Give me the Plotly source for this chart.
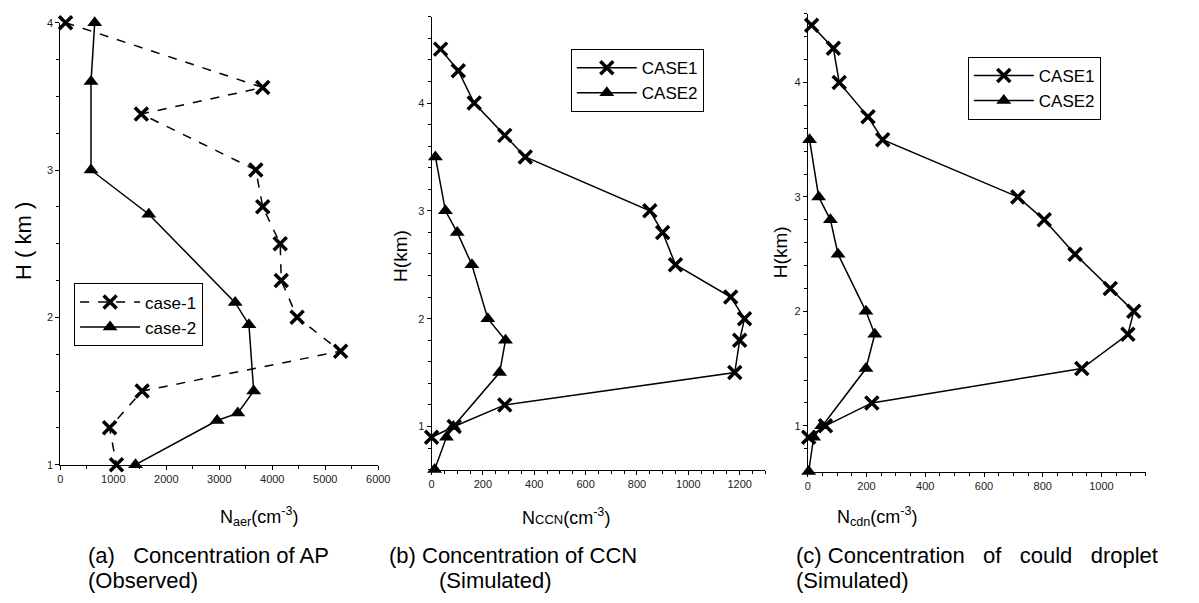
import plotly.graph_objects as go

# ---------------- data ----------------
# (a) observed aerosol particles
a_case1_N = [100, 3820, 1530, 3690, 3820, 4150, 4170, 4470, 5290, 1545, 930, 1060]
a_case1_H = [4.0, 3.56, 3.38, 3.0, 2.75, 2.5, 2.25, 2.0, 1.77, 1.5, 1.25, 1.0]
a_case2_N = [650, 580, 580, 1670, 3300, 3560, 3650, 3350, 2960, 1420]
a_case2_H = [4.0, 3.6, 3.0, 2.7, 2.1, 1.95, 1.5, 1.35, 1.3, 1.0]

# (b) simulated CCN
b_case1_N = [35, 104, 166, 285, 365, 850, 900, 950, 1165, 1219, 1200, 1181, 285, 88, 0]
b_case1_H = [4.5, 4.3, 4.0, 3.7, 3.5, 3.0, 2.8, 2.5, 2.2, 2.0, 1.8, 1.5, 1.2, 1.0, 0.9]
b_case2_N = [15, 54, 100, 157, 219, 288, 265, 85, 58, 12]
b_case2_H = [3.5, 3.0, 2.8, 2.5, 2.0, 1.8, 1.5, 1.0, 0.9, 0.6]

# (c) simulated cloud droplets
c_case1_N = [13, 87, 107, 205, 255, 715, 805, 910, 1030, 1110, 1090, 933, 218, 60, 3]
c_case1_H = [4.5, 4.3, 4.0, 3.7, 3.5, 3.0, 2.8, 2.5, 2.2, 2.0, 1.8, 1.5, 1.2, 1.0, 0.9]
c_case2_N = [6, 37, 77, 103, 198, 228, 198, 47, 20, 3]
c_case2_H = [3.5, 3.0, 2.8, 2.5, 2.0, 1.8, 1.5, 1.0, 0.9, 0.6]

a_xticks = [0, 1000, 2000, 3000, 4000, 5000, 6000]
b_xticks = [0, 200, 400, 600, 800, 1000, 1200]
c_xticks = [0, 200, 400, 600, 800, 1000]
h_ticks = [1, 2, 3, 4]

# ---------------- styling ----------------
W, H = 1199, 603
FONT = "Liberation Sans Narrow, Arial Narrow, Liberation Sans, Arial, sans-serif"
BLACK = "#000000"
TICKC = "#222222"


def px_x(p):
    return p / W


def px_y(p):
    return 1 - p / H


xmark = dict(symbol="x-thin", size=13, line=dict(width=3.5, color=BLACK), color=BLACK)
tmark = dict(symbol="triangle-up", size=13, color=BLACK)

fig = go.Figure()

series = [
    (a_case1_N, a_case1_H, "case-1", "dash", xmark, "x", "y", "legend"),
    (a_case2_N, a_case2_H, "case-2", "solid", tmark, "x", "y", "legend"),
    (b_case1_N, b_case1_H, "CASE1", "solid", xmark, "x2", "y2", "legend2"),
    (b_case2_N, b_case2_H, "CASE2", "solid", tmark, "x2", "y2", "legend2"),
    (c_case1_N, c_case1_H, "CASE1", "solid", xmark, "x3", "y3", "legend3"),
    (c_case2_N, c_case2_H, "CASE2", "solid", tmark, "x3", "y3", "legend3"),
]
for xs, ys, name, dash, mk, xa, ya, lg in series:
    fig.add_trace(go.Scatter(x=xs, y=ys, mode="lines+markers", name=name,
                             line=dict(color=BLACK, width=1.5, dash=dash), marker=mk,
                             xaxis=xa, yaxis=ya, legend=lg, cliponaxis=False))


def xaxis(domain_px, rng, ticks, minor, anchor):
    return dict(domain=[px_x(domain_px[0]), px_x(domain_px[1])], range=rng, anchor=anchor,
                tickmode="array", tickvals=ticks, ticktext=[str(t) for t in ticks],
                showline=True, linecolor=BLACK, linewidth=1, ticks="outside", ticklen=4,
                tickcolor=BLACK, showgrid=False, zeroline=False, mirror=False,
                tickfont=dict(family=FONT, size=11, color=TICKC),
                minor=dict(dtick=minor, tick0=0, ticks="outside", ticklen=3, tickcolor=BLACK, showgrid=False))


def yaxis(domain_px, rng, ticks, minor, anchor):
    return dict(domain=[px_y(domain_px[1]), px_y(domain_px[0])], range=rng, anchor=anchor,
                tickmode="array", tickvals=ticks, ticktext=[str(t) for t in ticks],
                showline=True, linecolor=BLACK, linewidth=1, ticks="outside", ticklen=4,
                tickcolor=BLACK, showgrid=False, zeroline=False, mirror=False,
                tickfont=dict(family=FONT, size=11, color=TICKC),
                minor=dict(dtick=minor, tick0=0, ticks="outside", ticklen=3, tickcolor=BLACK, showgrid=False))


legend_common = dict(bgcolor="white", bordercolor=BLACK, borderwidth=1,
                     font=dict(family=FONT, size=17, color=BLACK),
                     xanchor="left", yanchor="top", itemwidth=60, tracegroupgap=0)

fig.update_layout(
    width=W, height=H, margin=dict(l=0, r=0, t=0, b=0),
    paper_bgcolor="white", plot_bgcolor="white",
    xaxis=xaxis((58, 380), [0, 6000], a_xticks, 500, "y"),
    yaxis=yaxis((17, 468), [1, 4], h_ticks, 0.25, "x"),
    xaxis2=xaxis((434, 772), [0, 1300], b_xticks, 50, "y2"),
    yaxis2=yaxis((11, 473), [0.6, 4.8], h_ticks, 0.2, "x2"),
    xaxis3=xaxis((815, 1157), [0, 1150], c_xticks, 50, "y3"),
    yaxis3=yaxis((8, 475), [0.6, 4.6], h_ticks, 0.2, "x3"),
    legend=dict(x=px_x(72), y=px_y(283), **legend_common),
    legend2=dict(x=px_x(575), y=px_y(44), **legend_common),
    legend3=dict(x=px_x(977), y=px_y(52), **legend_common),
    showlegend=True,
)

annotations = [
    # y-axis titles
    dict(text="H ( km )", x=px_x(20), y=px_y(240), textangle=-90, font=dict(size=22)),
    dict(text="H(km)", x=px_x(403), y=px_y(255), textangle=-90, font=dict(size=19)),
    dict(text="H(km)", x=px_x(787), y=px_y(251), textangle=-90, font=dict(size=19)),
    # x-axis titles
    dict(text="N<sub>aer</sub>(cm<sup>-3</sup>)", x=px_x(259), y=px_y(521), font=dict(size=18)),
    dict(text="N<span style='font-size:13px'>CCN</span>(cm<sup>-3</sup>)", x=px_x(570), y=px_y(521), font=dict(size=18)),
    dict(text="N<sub>cdn</sub>(cm<sup>-3</sup>)", x=px_x(886), y=px_y(521), font=dict(size=18)),
    # captions
    dict(text="(a)   Concentration of AP", x=px_x(84), y=px_y(561), xanchor="left", font=dict(size=22)),
    dict(text="(Observed)", x=px_x(84), y=px_y(586), xanchor="left", font=dict(size=22)),
    dict(text="(b) Concentration of CCN", x=px_x(389), y=px_y(561), xanchor="left", font=dict(size=22)),
    dict(text="(Simulated)", x=px_x(439), y=px_y(586), xanchor="left", font=dict(size=22)),
    dict(text="(c) Concentration   of   could   droplet", x=px_x(801), y=px_y(561), xanchor="left", font=dict(size=22)),
    dict(text="(Simulated)", x=px_x(801), y=px_y(586), xanchor="left", font=dict(size=22)),
]
for a in annotations:
    a.setdefault("xanchor", "center")
    a["yanchor"] = "middle"
    a["xref"] = "paper"
    a["yref"] = "paper"
    a["showarrow"] = False
    a["font"] = dict(family=FONT, color=BLACK, **a["font"])
fig.update_layout(annotations=annotations)

fig.write_html("out.html")
